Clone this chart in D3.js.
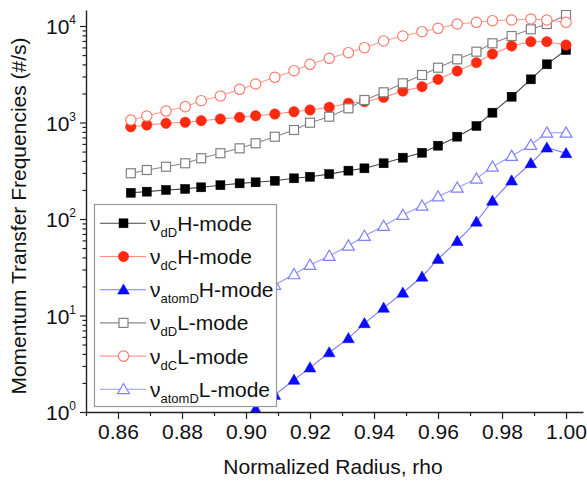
<!DOCTYPE html>
<html><head><meta charset="utf-8">
<script src="https://cdn.jsdelivr.net/npm/d3@7"></script>
<style>body{margin:0;background:#fff}</style>
</head><body>
<svg id="c" width="587" height="481"></svg>
<script>
// ---- data ----
const rho = [0.864, 0.869, 0.875, 0.881, 0.886, 0.892, 0.898, 0.903, 0.909, 0.915, 0.920, 0.926, 0.932,
             0.937, 0.943, 0.949, 0.955, 0.960, 0.966, 0.972, 0.977, 0.983, 0.989, 0.994, 1.000];
const dD_H = [187, 192, 200, 205, 213, 224, 234, 240, 249, 264, 274, 292, 317, 335, 378, 432, 486, 575, 713, 920, 1264, 1850, 2800, 4010, 5640];
const dC_H = [904, 942, 981, 1005, 1044, 1087, 1132, 1176, 1224, 1294, 1348, 1438, 1582, 1643, 1825, 2120, 2350, 2800, 3420, 4170, 5130, 6210, 6880, 6880, 6360];
const atomD_H = [null, null, null, null, null, null, null, 1.07, 1.50, 2.15, 2.88, 4.14, 5.80, 8.30, 12.0, 17.2, 25.2, 38.5, 59.1, 93.7, 154, 250, 378, 548, 480];
const dD_L = [298, 322, 348, 378, 426, 480, 540, 609, 712, 836, 995, 1148, 1403, 1711, 2056, 2548, 3106, 3697, 4518, 5418, 6620, 7878, 9245, 10490, 13000];
const dC_L = [1062, 1168, 1314, 1459, 1683, 1882, 2209, 2506, 2940, 3443, 4010, 4628, 5290, 5961, 6998, 7878, 8730, 9466, 10490, 10920, 11350, 11540, 11820, 11540, 10920];
const atomD_L = [null, null, null, null, null, null, null, 16.3, 20.7, 26.7, 33.4, 41.4, 52.9, 66.6, 84.6, 110, 137, 171, 211, 262, 348, 450, 585, 784, 784];
const xTicks = [0.86, 0.88, 0.90, 0.92, 0.94, 0.96, 0.98, 1.00];
const xMinor = [0.85, 0.87, 0.89, 0.91, 0.93, 0.95, 0.97, 0.99];
const yExp = [0, 1, 2, 3, 4];
const xTitle = "Normalized Radius, rho";
const yTitle = "Momentum Transfer Frequencies (#/s)";

const series = [
  {sub: "dD",    mode: "H-mode", values: dD_H,    shape: "square",   line: "#444444", stroke: "#000000", fill: "#000000"},
  {sub: "dC",    mode: "H-mode", values: dC_H,    shape: "circle",   line: "#ff8a80", stroke: "#ff2a10", fill: "#ff2a10"},
  {sub: "atomD", mode: "H-mode", values: atomD_H, shape: "triangle", line: "#7878ff", stroke: "#0a0aff", fill: "#0a0aff"},
  {sub: "dD",    mode: "L-mode", values: dD_L,    shape: "square",   line: "#888888", stroke: "#808080", fill: "#ffffff"},
  {sub: "dC",    mode: "L-mode", values: dC_L,    shape: "circle",   line: "#ff9a90", stroke: "#ff7a6e", fill: "#ffffff"},
  {sub: "atomD", mode: "L-mode", values: atomD_L, shape: "triangle", line: "#9898ff", stroke: "#8080ff", fill: "#ffffff"}
];

// ---- layout ----
const font = "'Liberation Sans', Arial, Helvetica, sans-serif";
const svg = d3.select("#c");
const x = d3.scaleLinear().domain([0.85, 1.0053]).range([86, 583]);
const y = d3.scaleLog().domain([1, 14650]).range([412, 10]);

svg.append("defs").append("clipPath").attr("id", "clip")
  .append("rect").attr("x", x.range()[0]).attr("y", y.range()[1])
  .attr("width", x.range()[1] - x.range()[0]).attr("height", y.range()[0] - y.range()[1]);

// axes
const gx = svg.append("g").attr("transform", `translate(0,${y.range()[0]})`)
  .call(d3.axisBottom(x).tickValues(xTicks).tickSize(7).tickSizeOuter(0).tickPadding(5).tickFormat(d3.format(".2f")));
const gxm = svg.append("g").attr("transform", `translate(0,${y.range()[0]})`)
  .call(d3.axisBottom(x).tickValues(xMinor).tickSize(4).tickSizeOuter(0).tickFormat(""));
gxm.select(".domain").remove();

const yMajor = yExp.map(e => Math.pow(10, e));
const yMinor = [];
yExp.forEach(e => { for (let k = 2; k <= 9; k++) { const v = k * Math.pow(10, e); if (v <= y.domain()[1]) yMinor.push(v); } });
const gy = svg.append("g").attr("transform", `translate(${x.range()[0]},0)`)
  .call(d3.axisLeft(y).tickValues(yMajor).tickSize(6).tickSizeOuter(0).tickFormat(() => ""));
const gym = svg.append("g").attr("transform", `translate(${x.range()[0]},0)`)
  .call(d3.axisLeft(y).tickValues(yMinor).tickSize(3.5).tickSizeOuter(0).tickFormat(""));
gym.select(".domain").remove();

[gx, gxm, gy, gym].forEach(g => {
  g.selectAll(".domain").attr("stroke", "#222").attr("stroke-width", 1.4);
  g.selectAll(".tick line").attr("stroke", "#222").attr("stroke-width", 1.2);
});
gx.selectAll(".tick text").attr("font-family", font).attr("font-size", 21).attr("fill", "#111");

gy.selectAll(".tick").each(function(d) {
  const t = d3.select(this).select("text").attr("font-family", font).attr("font-size", 21)
    .attr("fill", "#111").attr("x", -10).attr("dy", "0.36em").attr("text-anchor", "end").text(null);
  t.append("tspan").text("10");
  t.append("tspan").attr("font-size", 12).attr("dy", "-0.8em").text(String(Math.round(Math.log10(d))));
});

// titles
svg.append("text").attr("x", 333).attr("y", 474).attr("text-anchor", "middle")
  .attr("font-family", font).attr("font-size", 21).attr("fill", "#111").text(xTitle);
svg.append("text").attr("transform", "translate(26,216) rotate(-90)").attr("text-anchor", "middle")
  .attr("font-family", font).attr("font-size", 21).attr("fill", "#111").text(yTitle);

// marker drawing
function marker(g, shape, s, cx, cy) {
  if (shape === "square") {
    return g.append("rect").attr("x", cx - 4.5).attr("y", cy - 4.5).attr("width", 9).attr("height", 9)
      .attr("fill", s.fill).attr("stroke", s.stroke).attr("stroke-width", s.fill === "#ffffff" ? 1.2 : 0.5);
  } else if (shape === "circle") {
    return g.append("circle").attr("cx", cx).attr("cy", cy).attr("r", 5.2)
      .attr("fill", s.fill).attr("stroke", s.stroke).attr("stroke-width", s.fill === "#ffffff" ? 1.2 : 0.5);
  } else {
    return g.append("path").attr("d", d3.symbol(d3.symbolTriangle, 60)()).attr("transform", `translate(${cx},${cy + 1})`)
      .attr("fill", s.fill).attr("stroke", s.stroke).attr("stroke-width", s.fill === "#ffffff" ? 1.2 : 0.5);
  }
}

const plot = svg.append("g").attr("clip-path", "url(#clip)");
series.forEach(s => {
  const pts = rho.map((r, i) => [r, s.values[i]]);
  const line = d3.line().defined(p => p[1] != null).x(p => x(p[0])).y(p => y(p[1]));
  plot.append("path").attr("d", line(pts)).attr("fill", "none").attr("stroke", s.line).attr("stroke-width", 1.1);
  const mg = plot.append("g");
  pts.filter(p => p[1] != null).forEach(p => marker(mg, s.shape, s, x(p[0]), y(p[1])));
});

// legend
const lg = svg.append("g");
lg.append("rect").attr("x", 94.5).attr("y", 204.5).attr("width", 182).attr("height", 202)
  .attr("fill", "#fff").attr("stroke", "#999").attr("stroke-width", 1.2);
series.forEach((s, i) => {
  const ly = 223.3 + i * 33.2;
  lg.append("line").attr("x1", 100).attr("x2", 146).attr("y1", ly).attr("y2", ly)
    .attr("stroke", s.line).attr("stroke-width", 1.1);
  marker(lg, s.shape, s, 123.5, ly);
  const t = lg.append("text").attr("x", 150).attr("y", ly + 7.5).attr("font-family", font)
    .attr("font-size", 21).attr("fill", "#111");
  t.append("tspan").text("\u03bd");
  t.append("tspan").attr("font-size", 13).attr("dy", 6).text(s.sub);
  t.append("tspan").attr("dy", -6).text(s.mode);
});
</script>
</body></html>
